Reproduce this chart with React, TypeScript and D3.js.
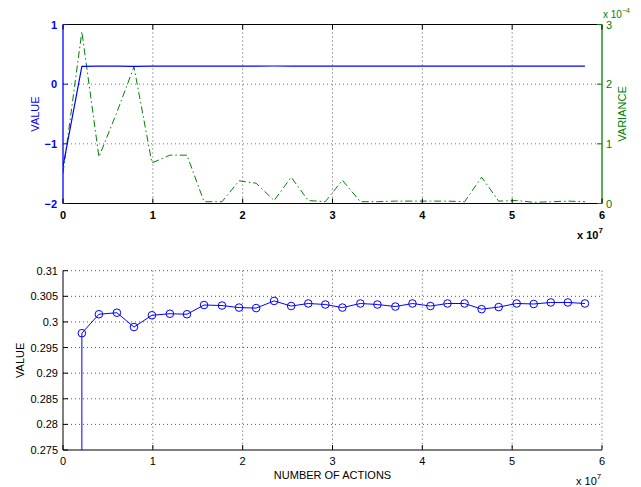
import * as d3 from "d3";

// x positions of the evaluations (units of 1e7 actions)
const actions = [
	0.21, 0.4, 0.6, 0.79, 0.99, 1.19, 1.38, 1.57, 1.77, 1.96, 2.15, 2.35, 2.54,
	2.73, 2.92, 3.11, 3.31, 3.5, 3.7, 3.89, 4.09, 4.28, 4.47, 4.66, 4.85, 5.05,
	5.24, 5.43, 5.62, 5.81,
];
// mean value at each evaluation
const values = [
	0.2978, 0.3015, 0.3018, 0.299, 0.3013, 0.3016, 0.3015, 0.3033, 0.3032, 0.3028,
	0.3027, 0.3041, 0.3031, 0.3036, 0.3034, 0.3028, 0.3036, 0.3034, 0.303, 0.3036,
	0.3031, 0.3036, 0.3036, 0.3025, 0.3029, 0.3036, 0.3035, 0.3038, 0.3038,
	0.3036,
];
// variance at each evaluation (units of 1e-4)
const variances = [
	2.88, 0.78, 1.53, 2.29, 0.68, 0.81, 0.81, 0.03, 0.03, 0.38, 0.34, 0.05, 0.44,
	0.05, 0.03, 0.39, 0.03, 0.03, 0.04, 0.04, 0.04, 0.04, 0.03, 0.44, 0.04, 0.05,
	0.02, 0.03, 0.04, 0.03,
];
// starting point of the run (x = 0)
const startValue = -1.38;
const startVariance = 0.51;

const xTicks = [0, 1, 2, 3, 4, 5, 6];
const valueTicksTop = [-2, -1, 0, 1];
const varianceTicks = [0, 1, 2, 3];
const valueTicksBottom = [0.275, 0.28, 0.285, 0.29, 0.295, 0.3, 0.305, 0.31];

const FONT = "'Liberation Sans', Arial, Helvetica, sans-serif";
const BLUE = "#0000ff";
const GREEN = "#008000";
const TICK = 5;

function App() {
	const left = 63;
	const right = 602;

	// top plot
	const t = { top: 24.5, bottom: 203.5 };
	const xTop = d3.scaleLinear().domain([0, 6]).range([left, right]);
	const yVal = d3.scaleLinear().domain([-2, 1]).range([t.bottom, t.top]);
	const yVar = d3.scaleLinear().domain([0, 3]).range([t.bottom, t.top]);

	const topValuePts = [[0, startValue], ...actions.map((a, i) => [a, values[i]])];
	const topVarPts = [[0, startVariance], ...actions.map((a, i) => [a, variances[i]])];

	const valueLine = d3
		.line<number[]>()
		.x((d) => xTop(d[0]))
		.y((d) => yVal(d[1]));
	const varLine = d3
		.line<number[]>()
		.x((d) => xTop(d[0]))
		.y((d) => yVar(d[1]));

	// bottom plot
	const b = { top: 270.7, bottom: 450 };
	const xBot = d3.scaleLinear().domain([0, 6]).range([left, right]);
	const yBot = d3.scaleLinear().domain([0.275, 0.31]).range([b.bottom, b.top]);
	const botPts = [[actions[0], startValue], ...actions.map((a, i) => [a, values[i]])];
	const botLine = d3
		.line<number[]>()
		.x((d) => xBot(d[0]))
		.y((d) => yBot(d[1]));

	const fmtBottom = (v: number) => d3.format("~g")(+v.toFixed(3));

	return (
		<svg
			width={641}
			height={487}
			style={{ position: "absolute", left: 0, top: 0, background: "#fff" }}
			fontFamily={FONT}
		>
			<defs>
				<clipPath id="clipTop">
					<rect x={left} y={t.top} width={right - left} height={t.bottom - t.top} />
				</clipPath>
				<clipPath id="clipBot">
					<rect x={left} y={b.top} width={right - left} height={b.bottom - b.top} />
				</clipPath>
			</defs>

			{/* ---------- top plot ---------- */}
			<g>
				{xTicks.slice(1, -1).map((v) => (
					<line
						key={"tgx" + v}
						x1={xTop(v)}
						x2={xTop(v)}
						y1={t.top}
						y2={t.bottom}
						stroke="#555"
						strokeWidth={1}
						strokeDasharray="1,3"
					/>
				))}
				{valueTicksTop.slice(1, -1).map((v) => (
					<line
						key={"tgy" + v}
						x1={left}
						x2={right}
						y1={yVal(v)}
						y2={yVal(v)}
						stroke="#6a6aff"
						strokeWidth={1}
						strokeDasharray="1,3"
					/>
				))}

				<g clipPath="url(#clipTop)">
					<path d={varLine(topVarPts) || ""} fill="none" stroke={GREEN} strokeWidth={1} strokeDasharray="7,3,1.5,3" />
					<path d={valueLine(topValuePts) || ""} fill="none" stroke={BLUE} strokeWidth={1.2} />
				</g>

				{/* box */}
				<line x1={left} x2={right} y1={t.top} y2={t.top} stroke="#000" />
				<line x1={left} x2={right} y1={t.bottom} y2={t.bottom} stroke="#000" />
				<line x1={left} x2={left} y1={t.top} y2={t.bottom} stroke={BLUE} strokeWidth={1.3} />
				<line x1={right} x2={right} y1={t.top} y2={t.bottom} stroke={GREEN} strokeWidth={1.3} />

				{/* x ticks */}
				{xTicks.map((v) => (
					<g key={"tx" + v}>
						<line x1={xTop(v)} x2={xTop(v)} y1={t.bottom} y2={t.bottom - TICK} stroke="#000" />
						<line x1={xTop(v)} x2={xTop(v)} y1={t.top} y2={t.top + TICK} stroke="#000" />
						<text x={xTop(v)} y={t.bottom + 15} textAnchor="middle" fontSize={11} fontWeight="bold">
							{v}
						</text>
					</g>
				))}
				<text x={577} y={239} fontSize={11} fontWeight="bold">
					x 10
					<tspan dy={-6} fontSize={8}>
						7
					</tspan>
				</text>

				{/* left value axis */}
				{valueTicksTop.map((v) => (
					<g key={"tyl" + v}>
						<line x1={left} x2={left + TICK} y1={yVal(v)} y2={yVal(v)} stroke={BLUE} />
						<text x={left - 6} y={yVal(v) + 4} textAnchor="end" fontSize={11} fontWeight="bold" fill={BLUE}>
							{d3.format("")(v)}
						</text>
					</g>
				))}
				<text
					transform={`translate(39,${(t.top + t.bottom) / 2}) rotate(-90)`}
					textAnchor="middle"
					fontSize={11}
					fill={BLUE}
				>
					VALUE
				</text>

				{/* right variance axis */}
				{varianceTicks.map((v) => (
					<g key={"tyr" + v}>
						<line x1={right} x2={right - TICK} y1={yVar(v)} y2={yVar(v)} stroke={GREEN} />
						<text x={right + 4} y={yVar(v) + 4} textAnchor="start" fontSize={11} fill={GREEN}>
							{v}
						</text>
					</g>
				))}
				<text
					transform={`translate(626,${(t.top + t.bottom) / 2}) rotate(-90)`}
					textAnchor="middle"
					fontSize={11}
					fill={GREEN}
				>
					VARIANCE
				</text>
				<text x={603} y={18} fontSize={10} fill={GREEN}>
					x 10
					<tspan dy={-5} fontSize={7}>
						−4
					</tspan>
				</text>
			</g>

			{/* ---------- bottom plot ---------- */}
			<g>
				{xTicks.slice(1, -1).map((v) => (
					<line
						key={"bgx" + v}
						x1={xBot(v)}
						x2={xBot(v)}
						y1={b.top}
						y2={b.bottom}
						stroke="#555"
						strokeDasharray="1,3"
					/>
				))}
				{valueTicksBottom.slice(1).map((v) => (
					<line
						key={"bgy" + v}
						x1={left}
						x2={right}
						y1={yBot(v)}
						y2={yBot(v)}
						stroke="#555"
						strokeDasharray="1,3"
					/>
				))}
				<line x1={right} x2={right} y1={b.top} y2={b.bottom} stroke="#555" strokeDasharray="1,3" />

				<g clipPath="url(#clipBot)">
					<path d={botLine(botPts) || ""} fill="none" stroke={BLUE} strokeWidth={1} />
					{actions.map((a, i) => (
						<circle key={"c" + i} cx={xBot(a)} cy={yBot(values[i])} r={3.8} fill="none" stroke={BLUE} strokeWidth={1} />
					))}
				</g>

				<line x1={left} x2={right} y1={b.bottom} y2={b.bottom} stroke="#000" />
				<line x1={left} x2={left} y1={b.top} y2={b.bottom} stroke="#000" />

				{xTicks.map((v) => (
					<g key={"bx" + v}>
						<line x1={xBot(v)} x2={xBot(v)} y1={b.bottom} y2={b.bottom - TICK} stroke="#000" />
						<text x={xBot(v)} y={b.bottom + 15} textAnchor="middle" fontSize={11}>
							{v}
						</text>
					</g>
				))}
				{valueTicksBottom.map((v) => (
					<g key={"by" + v}>
						<line x1={left} x2={left + TICK} y1={yBot(v)} y2={yBot(v)} stroke="#000" />
						<text x={left - 5} y={yBot(v) + 4} textAnchor="end" fontSize={11}>
							{fmtBottom(v)}
						</text>
					</g>
				))}
				<text
					transform={`translate(24,${(b.top + b.bottom) / 2}) rotate(-90)`}
					textAnchor="middle"
					fontSize={11}
				>
					VALUE
				</text>
				<text x={(left + right) / 2} y={479} textAnchor="middle" fontSize={11}>
					NUMBER OF ACTIONS
				</text>
				<text x={576} y={485} fontSize={11}>
					x 10
					<tspan dy={-6} fontSize={8}>
						7
					</tspan>
				</text>
			</g>
		</svg>
	);
}

export default App;
